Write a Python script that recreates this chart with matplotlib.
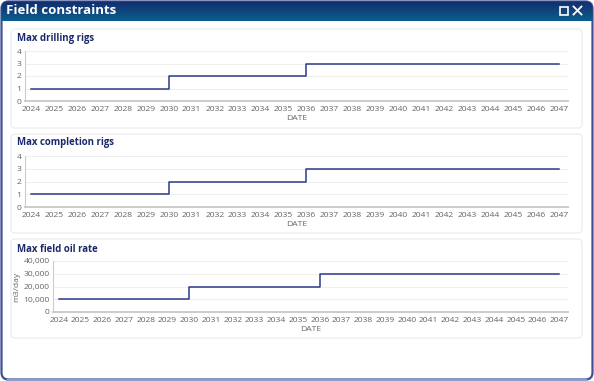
import numpy as np
import matplotlib
matplotlib.use('Agg')
import matplotlib.pyplot as plt
from matplotlib.patches import FancyBboxPatch, Rectangle

# Chart data
years = list(range(2024, 2048))
drilling_rigs = [1] * 6 + [2] * 6 + [3] * 12
completion_rigs = [1] * 6 + [2] * 6 + [3] * 12
oil_rate = [10000] * 6 + [20000] * 6 + [30000] * 12

window_title = "Field constraints"
panel_titles = ["Max drilling rigs", "Max completion rigs", "Max field oil rate"]
panel_series = [drilling_rigs, completion_rigs, oil_rate]
y_ticks = [[0, 1, 2, 3, 4], [0, 1, 2, 3, 4], [0, 10000, 20000, 30000, 40000]]
y_labels = [None, None, "m3/day"]

W, H = 594, 381
plt.rcParams['font.family'] = ['Open Sans', 'DejaVu Sans']

fig = plt.figure(figsize=(W / 100, H / 100), dpi=100, facecolor='white')


def px_rect(x, y, w, h):
    # pixel box (top-left origin) -> figure fraction
    return [x / W, 1 - (y + h) / H, w / W, h / H]


# Background axes in pixel coordinates
bg = fig.add_axes([0, 0, 1, 1])
bg.set_xlim(0, W)
bg.set_ylim(H, 0)
bg.axis('off')

# Window body and border
win = FancyBboxPatch((1.5, 1.5), W - 3, H - 3, boxstyle="round,pad=0,rounding_size=7",
                     facecolor='white', edgecolor='#3d5194', linewidth=1.6, zorder=1)
bg.add_patch(win)
# lighter bottom edge
bg.plot([8, W - 8], [H - 1.5, H - 1.5], color='#8f9dcc', lw=1.6, zorder=1.5)

# Header gradient, clipped to the window shape
grad = np.linspace(0, 1, 64).reshape(-1, 1)
hdr = bg.imshow(grad, extent=[0, W, 21, 0], aspect='auto', zorder=2,
                cmap=matplotlib.colors.LinearSegmentedColormap.from_list('hdr', ['#142a6c', '#0a5e8e']))
hdr.set_clip_path(win)
bg.set_xlim(0, W)
bg.set_ylim(H, 0)
bg.text(6, 11, window_title, color='white', fontsize=9.5, fontweight='bold',
        va='center', ha='left', zorder=3)

# Header icons (maximise / close)
bg.add_patch(Rectangle((559.5, 6.5), 8, 8, fill=False, edgecolor='white', linewidth=1.2, zorder=3))
bg.plot([573.5, 581.5], [6.5, 14.5], color='white', lw=1.3, zorder=3)
bg.plot([573.5, 581.5], [14.5, 6.5], color='white', lw=1.3, zorder=3)

# Panel frames
panel_tops = [29, 134, 239]
for top in panel_tops:
    bg.add_patch(FancyBboxPatch((11, top), 571, 99, boxstyle="round,pad=0,rounding_size=4",
                                facecolor='white', edgecolor='#ebebeb', linewidth=0.8, zorder=2))

# Plot areas (x, y, w, h in pixels)
plot_boxes = [(25, 51, 543, 50), (25, 156, 543, 51), (53, 261, 515, 51)]
title_y = [38, 143, 249]

for i in range(3):
    bg.text(17, title_y[i], panel_titles[i], color='#1c2a6b', fontsize=6.9,
            fontweight='bold', va='center', ha='left', zorder=3)

    ax = fig.add_axes(px_rect(*plot_boxes[i]))
    ax.patch.set_alpha(0)
    ax.plot(years, panel_series[i], drawstyle='steps-post', color='#2b3a8a', linewidth=1.1,
            clip_on=False)
    ax.set_xlim(2023.73, 2047.4)
    ax.set_ylim(y_ticks[i][0], y_ticks[i][-1])
    ax.set_xticks(years)
    ax.set_xticklabels([str(y) for y in years])
    ax.set_yticks(y_ticks[i])
    if i == 2:
        ax.set_yticklabels(['{:,}'.format(v) for v in y_ticks[i]])
    ax.tick_params(axis='both', length=0, labelsize=6.1, colors='#666666')
    ax.tick_params(axis='x', pad=3.5)
    ax.tick_params(axis='y', pad=2.5)
    ax.grid(axis='y', color='#efefef', linewidth=0.8)
    ax.set_axisbelow(True)
    for s in ['top', 'right']:
        ax.spines[s].set_visible(False)
    ax.spines['left'].set_color('#cccccc')
    ax.spines['left'].set_linewidth(0.8)
    ax.spines['bottom'].set_color('#cccccc')
    ax.spines['bottom'].set_linewidth(1.4)
    ax.set_xlabel("DATE", fontsize=6.1, color='#666666', labelpad=1.5)
    if y_labels[i]:
        ax.set_ylabel(y_labels[i], fontsize=6.1, color='#666666', labelpad=2)

fig.savefig("out.png", dpi=100, facecolor='white')
